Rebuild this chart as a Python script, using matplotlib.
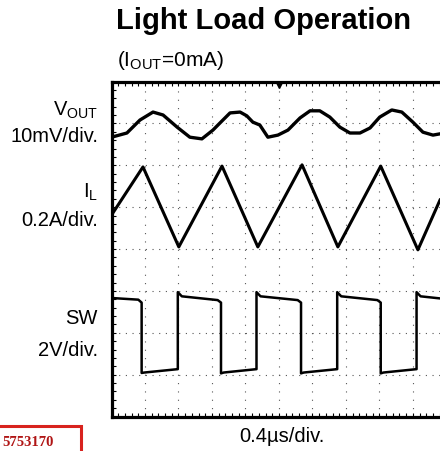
import matplotlib
matplotlib.use("Agg")
import matplotlib.pyplot as plt
from matplotlib.ticker import MultipleLocator
from matplotlib.patches import Rectangle

plt.rcParams['font.family'] = ['Liberation Sans', 'DejaVu Sans']
plt.rcParams['mathtext.fontset'] = 'custom'
plt.rcParams['mathtext.rm'] = 'Liberation Sans'
plt.rcParams['mathtext.it'] = 'Liberation Sans:italic'
plt.rcParams['mathtext.bf'] = 'Liberation Sans:bold'
plt.rcParams['lines.scale_dashes'] = False

# scope screen: 10 x 8 divisions, only ~9.8 horizontal divisions visible
x_divs = 10
y_divs = 8
x_visible = 9.81

# V_OUT trace (divisions)
vout_x = [0, 0.46, 0.85, 1.24, 1.54, 1.96, 2.34, 2.70, 3.03, 3.24, 3.54, 3.84, 4.04,
          4.22, 4.43, 4.67, 4.97, 5.27, 5.63, 5.93, 6.22, 6.52, 6.82, 7.12, 7.42,
          7.72, 8.01, 8.37, 8.67, 9.00, 9.30, 9.60, 9.81]
vout_y = [6.67, 6.77, 7.08, 7.27, 7.20, 6.91, 6.67, 6.63, 6.84, 7.01, 7.25, 7.27, 7.18,
          7.03, 6.96, 6.67, 6.72, 6.84, 7.13, 7.30, 7.30, 7.15, 6.91, 6.77, 6.77,
          6.89, 7.15, 7.32, 7.27, 7.03, 6.79, 6.72, 6.75]

# inductor current trace
il_x = [0, 0.94, 2.01, 3.30, 4.37, 5.69, 6.76, 8.04, 9.15, 9.81]
il_y = [4.81, 5.96, 4.05, 5.98, 4.05, 6.01, 4.05, 5.98, 3.98, 5.17]

# switch node trace
sw_x = [0, 0.80, 0.90, 0.90, 0.98, 1.97, 1.98, 1.98, 2.10, 3.17, 3.27, 3.27, 3.35,
        4.32, 4.33, 4.33, 4.45, 5.56, 5.66, 5.66, 5.74, 6.73, 6.74, 6.74, 6.86,
        7.94, 8.04, 8.04, 8.12, 9.10, 9.11, 9.11, 9.23, 9.81]
sw_y = [2.83, 2.79, 2.72, 1.04, 1.05, 1.13, 1.13, 2.97, 2.87, 2.78, 2.72, 1.03, 1.05,
        1.13, 1.13, 2.97, 2.87, 2.78, 2.72, 1.03, 1.05, 1.13, 1.13, 2.97, 2.87,
        2.78, 2.72, 1.03, 1.05, 1.13, 1.13, 2.97, 2.87, 2.82]

fig = plt.figure(figsize=(4.4, 4.51), dpi=100)

ax = fig.add_axes([111.5 / 440, 34.5 / 451, 1 - 111.5 / 440, 335 / 451])
ax.set_xlim(0, x_visible)
ax.set_ylim(0, y_divs)

for i in range(1, x_divs):
    ax.axvline(i, color='#555555', lw=0.8, dashes=(0.8, 5.2), zorder=1)
for j in range(1, y_divs):
    ax.axhline(j, color='#555555', lw=0.8, dashes=(0.8, 4.0), zorder=1)

ax.plot(vout_x, vout_y, color='black', lw=2.4, zorder=3)
ax.plot(il_x, il_y, color='black', lw=2.2, zorder=3)
ax.plot(sw_x, sw_y, color='black', lw=1.8, zorder=3)

# trigger marker hanging under the top frame
ax.plot([5], [y_divs - 0.06], marker='v', color='black', markersize=6, zorder=4)

ax.xaxis.set_major_locator(MultipleLocator(1))
ax.yaxis.set_major_locator(MultipleLocator(1))
ax.xaxis.set_minor_locator(MultipleLocator(0.2))
ax.yaxis.set_minor_locator(MultipleLocator(0.2))
ax.tick_params(which='both', direction='in', top=True, bottom=True, left=True, right=False,
               labelleft=False, labelbottom=False, length=3, width=0.8)
for s in ['left', 'top', 'bottom']:
    ax.spines[s].set_linewidth(2.3)
ax.spines['right'].set_visible(False)

# titles and labels (pixel positions converted to figure fraction)
def fx(px):
    return px / 440

def fy(py):
    return 1 - py / 451

fig.text(fx(116), fy(21), 'Light Load Operation', fontsize=21, fontweight='bold', ha='left', va='center')
fig.text(fx(117), fy(60), r'(I$_{\mathrm{OUT}}$=0mA)', fontsize=15, ha='left', va='center')

lab = dict(fontsize=14.5, ha='right', va='center')
fig.text(fx(98), fy(110), r'V$_{\mathrm{OUT}}$', **lab)
fig.text(fx(98), fy(137), '10mV/div.', **lab)
fig.text(fx(98), fy(192), r'I$_{\mathrm{L}}$', **lab)
fig.text(fx(98), fy(220), '0.2A/div.', **lab)
fig.text(fx(98), fy(318), 'SW', **lab)
fig.text(fx(98), fy(351), '2V/div.', **lab)
fig.text(fx(282), fy(437), '0.4\u00b5s/div.', fontsize=14.5, ha='center', va='center')

# red stamp box bottom-left
fig.patches.append(Rectangle((-0.02, -0.02), fx(81) + 0.02, (451 - 426) / 451 + 0.02,
                             transform=fig.transFigure, fill=False, edgecolor='#d8231e', lw=2.2))
fig.text(fx(2), fy(442), '5753170', fontsize=10.5, fontweight='bold', family='Liberation Serif',
         color='#b01515', ha='left', va='center')

fig.savefig('out.png', dpi=100)
